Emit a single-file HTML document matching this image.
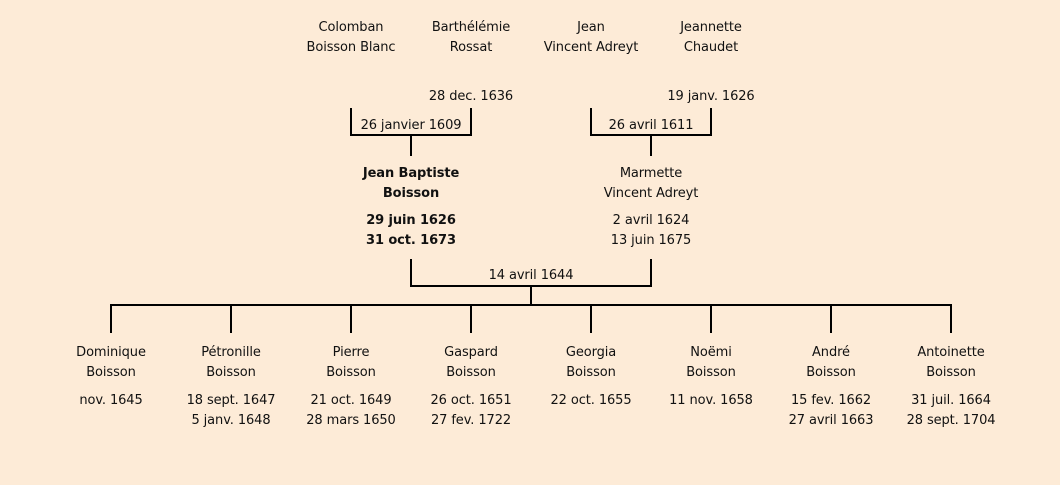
<!DOCTYPE html>
<html><head><meta charset="utf-8"><style>
body{margin:0;width:1060px;height:485px;background:#fdebd7;position:relative;overflow:hidden;font-family:"DejaVu Sans","Liberation Sans",sans-serif;font-size:13px;color:#111}
.t{position:absolute;width:160px;margin-left:-80px;margin-top:1px;text-align:center;line-height:20px;white-space:nowrap;letter-spacing:-0.1px}
.b{font-weight:bold}
svg{position:absolute;left:0;top:0}
</style></head><body>
<svg width="1060" height="485"><g stroke="#000" stroke-width="2" fill="none">
<path d="M351 108V135H471V108M411 135V156"/>
<path d="M591 108V135H711V108M651 135V156"/>
<path d="M411 259V286H651V259M531 286V305"/>
<path d="M111 333V305H951V333M231 305V333M351 305V333M471 305V333M591 305V333M711 305V333M831 305V333"/>
</g></svg>
<div class="t" style="left:351px;top:17px">Colomban<br>Boisson Blanc</div>
<div class="t" style="left:471px;top:17px">Barthélémie<br>Rossat</div>
<div class="t" style="left:591px;top:17px">Jean<br>Vincent Adreyt</div>
<div class="t" style="left:711px;top:17px">Jeannette<br>Chaudet</div>
<div class="t" style="left:471px;top:86px">28 dec. 1636</div>
<div class="t" style="left:711px;top:86px">19 janv. 1626</div>
<div class="t" style="left:411px;top:115px">26 janvier 1609</div>
<div class="t" style="left:651px;top:115px">26 avril 1611</div>
<div class="t b" style="left:411px;top:163px">Jean Baptiste<br>Boisson</div>
<div class="t b" style="left:411px;top:210px">29 juin 1626<br>31 oct. 1673</div>
<div class="t" style="left:651px;top:163px">Marmette<br>Vincent Adreyt</div>
<div class="t" style="left:651px;top:210px">2 avril 1624<br>13 juin 1675</div>
<div class="t" style="left:531px;top:265px">14 avril 1644</div>
<div class="t" style="left:111px;top:342px">Dominique<br>Boisson</div>
<div class="t" style="left:111px;top:390px">nov. 1645</div>
<div class="t" style="left:231px;top:342px">Pétronille<br>Boisson</div>
<div class="t" style="left:231px;top:390px">18 sept. 1647<br>5 janv. 1648</div>
<div class="t" style="left:351px;top:342px">Pierre<br>Boisson</div>
<div class="t" style="left:351px;top:390px">21 oct. 1649<br>28 mars 1650</div>
<div class="t" style="left:471px;top:342px">Gaspard<br>Boisson</div>
<div class="t" style="left:471px;top:390px">26 oct. 1651<br>27 fev. 1722</div>
<div class="t" style="left:591px;top:342px">Georgia<br>Boisson</div>
<div class="t" style="left:591px;top:390px">22 oct. 1655</div>
<div class="t" style="left:711px;top:342px">Noëmi<br>Boisson</div>
<div class="t" style="left:711px;top:390px">11 nov. 1658</div>
<div class="t" style="left:831px;top:342px">André<br>Boisson</div>
<div class="t" style="left:831px;top:390px">15 fev. 1662<br>27 avril 1663</div>
<div class="t" style="left:951px;top:342px">Antoinette<br>Boisson</div>
<div class="t" style="left:951px;top:390px">31 juil. 1664<br>28 sept. 1704</div>
</body></html>
